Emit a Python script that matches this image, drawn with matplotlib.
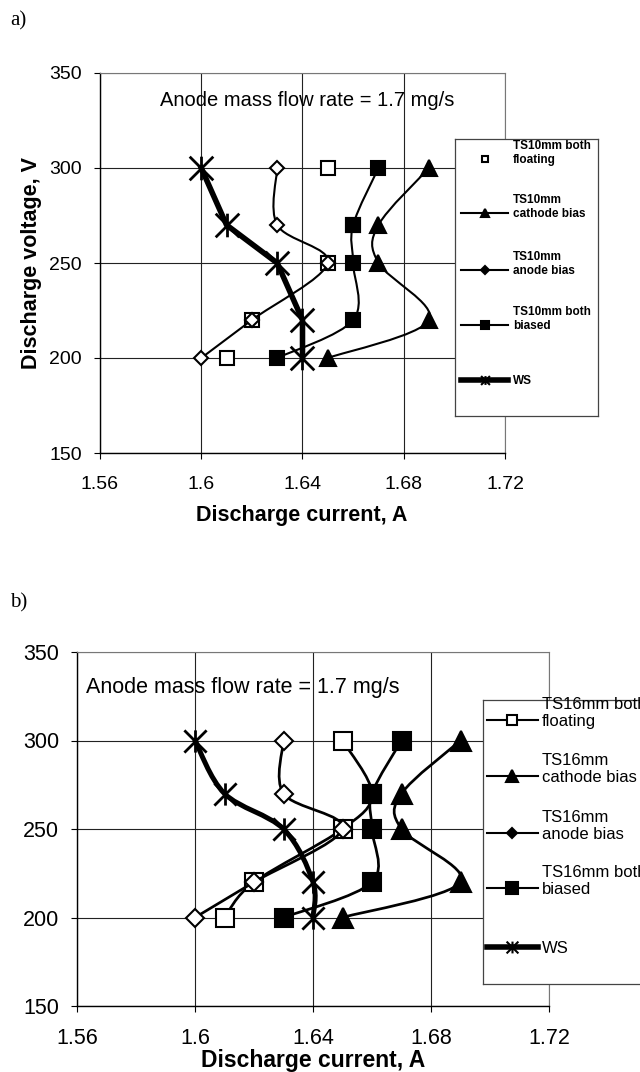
import numpy as np
import matplotlib
matplotlib.use("Agg")
import matplotlib.pyplot as plt
from matplotlib.path import Path
from matplotlib.patches import PathPatch
from matplotlib.lines import Line2D
from matplotlib.ticker import FormatStrFormatter

plt.rcParams['font.family'] = ['Liberation Sans', 'DejaVu Sans']

# discharge voltage, V (same points for every series)
voltage = [200, 220, 250, 270, 300]

# discharge current, A
both_floating = [1.61, 1.62, 1.65, 1.66, 1.65]
cathode_bias = [1.65, 1.69, 1.67, 1.67, 1.69]
anode_bias = [1.60, 1.62, 1.65, 1.63, 1.63]
both_biased = [1.63, 1.66, 1.66, 1.66, 1.67]
ws = [1.64, 1.64, 1.63, 1.61, 1.60]

labels_a = ["TS10mm both\nfloating", "TS10mm\ncathode bias", "TS10mm\nanode bias",
            "TS10mm both\nbiased", "WS"]
labels_b = ["TS16mm both\nfloating", "TS16mm\ncathode bias", "TS16mm\nanode bias",
            "TS16mm both\nbiased", "WS"]

x_ticks = [1.56, 1.60, 1.64, 1.68, 1.72]
y_ticks = [150, 200, 250, 300, 350]

W, H = 640, 1072
fig = plt.figure(figsize=(W / 100, H / 100), dpi=100)


def px_rect(x, top, w, h):
    return [x / W, 1 - (top + h) / H, w / W, h / H]


def star_marker():
    v = [(-1, -1), (1, 1), (-1, 1), (1, -1), (0, -1), (0, 1)]
    c = [Path.MOVETO, Path.LINETO] * 3
    return Path(v, c)


STAR = star_marker()


def smooth_path(ax, x, y):
    # excel style smoothed line (catmull-rom bezier in screen space)
    pts = ax.transData.transform(np.column_stack([x, y]))
    n = len(pts)
    verts = [pts[0]]
    codes = [Path.MOVETO]
    for i in range(n - 1):
        p0 = pts[i - 1] if i > 0 else pts[i]
        p1, p2 = pts[i], pts[i + 1]
        p3 = pts[i + 2] if i + 2 < n else pts[i + 1]
        verts += [p1 + (p2 - p0) / 6, p2 - (p3 - p1) / 6, p2]
        codes += [Path.CURVE4] * 3
    return Path(ax.transData.inverted().transform(np.array(verts)), codes)


def make_panel(rect, big, float_line, ws_smooth):
    ax = fig.add_axes(rect)
    ax.set_xlim(1.56, 1.72)
    ax.set_ylim(150, 350)
    ax.set_xticks(x_ticks)
    ax.set_yticks(y_ticks)
    ax.xaxis.set_major_formatter(FormatStrFormatter('%g'))
    ax.grid(True, color='#222222', lw=0.8)
    ax.set_axisbelow(True)
    for s in ['top', 'right']:
        ax.spines[s].set_color('#777777')
        ax.spines[s].set_linewidth(0.8)
    for s in ['left', 'bottom']:
        ax.spines[s].set_linewidth(1.0)
    fs = 15.5 if big else 14
    ax.tick_params(axis='both', direction='out', length=4.5, width=0.8, labelsize=fs)
    ax.tick_params(axis='x', pad=11 if big else 12)
    ax.tick_params(axis='y', pad=8.5)

    k = 1.3 if big else 1.0
    series = [
        (both_floating, 's', 10.5 * k, 'white', 1.5 * k, float_line, True),
        (cathode_bias, '^', 11.5 * k, 'black', 1.5 * k, True, True),
        (anode_bias, 'D', 7.0 * k, 'white', 1.5 * k, True, True),
        (both_biased, 's', 10.5 * k, 'black', 1.5 * k, True, True),
        (ws, STAR, 17 if not big else 16, 'none', 4.0 if not big else 3.6, True, ws_smooth),
    ]
    for z, (cur, mk, ms, mfc, lw, line, smooth) in enumerate(series):
        if line and smooth:
            ax.add_patch(PathPatch(smooth_path(ax, cur, voltage), fill=False,
                                   lw=lw, edgecolor='black', capstyle='round',
                                   joinstyle='round', zorder=3 + 2 * z))
        elif line:
            ax.plot(cur, voltage, color='black', lw=lw, solid_joinstyle='round',
                    zorder=3 + 2 * z)
        mew = 2.0 if mk is STAR else 1.5
        ax.plot(cur, voltage, linestyle='none', marker=mk, ms=ms, mfc=mfc,
                mec='black', mew=mew, zorder=4 + 2 * z)
    return ax


def make_legend(rect, w, h, labels, big, float_line):
    lg = fig.add_axes(rect, zorder=30)
    lg.set_xlim(0, w)
    lg.set_ylim(h, 0)
    lg.set_xticks([])
    lg.set_yticks([])
    for s in lg.spines.values():
        s.set_color('#444444')
        s.set_linewidth(0.9)
    if big:
        rows, hx0, hx1, mx, tx = [20, 76, 133, 188, 247], 4, 55, 29, 59
        fs, weight, lsp, k = 12, 'normal', 1.15, 1.0
    else:
        rows, hx0, hx1, mx, tx = [20, 74, 131, 186, 241], 6, 53, 30, 58
        fs, weight, lsp, k = 8.5, 'bold', 1.3, 0.75
    handles = [
        ('s', 6.5 * k, 'white', 1.5, float_line),
        ('^', 8.5 * k, 'black', 1.5, True),
        ('D', 5.5 * k, 'black', 1.5, True),
        ('s', 8.5 * k, 'black', 1.5, True),
        (STAR, 8.5 * k, 'none', 4.0, True),
    ]
    fs_px = fs * 100 / 72
    for y, lab, (mk, ms, mfc, lw, line) in zip(rows, labels, handles):
        if line:
            lg.add_line(Line2D([hx0, hx1], [y, y], color='black', lw=lw))
        lg.add_line(Line2D([mx], [y], marker=mk, ms=ms, mfc=mfc, mec='black',
                           mew=1.5, linestyle='none'))
        lg.text(tx, y + 0.36 * fs_px, lab, fontsize=fs, fontweight=weight,
                va='baseline', ha='left', linespacing=lsp)
    return lg


# panel a
ax_a = make_panel(px_rect(100, 73, 405, 380), False, False, False)
make_legend(px_rect(455, 139, 143, 277), 143, 277, labels_a, False, False)
fig.text(307 / W, 1 - 100 / H, "Anode mass flow rate = 1.7 mg/s", fontsize=14.5,
         ha='center', va='center')
fig.text(302 / W, 1 - 516 / H, "Discharge current, A", fontsize=15.5,
         fontweight='bold', ha='center', va='center')
fig.text(32 / W, 1 - 263 / H, "Discharge voltage, V", fontsize=15.5,
         fontweight='bold', ha='center', va='center', rotation=90)
fig.text(10 / W, 1 - 21 / H, "a)", fontsize=15, family=['Liberation Serif'],
         ha='left', va='center')

# panel b
ax_b = make_panel(px_rect(77, 652, 472, 354), True, True, True)
make_legend(px_rect(483, 700, 185, 284), 185, 284, labels_b, True, True)
fig.text(243 / W, 1 - 688 / H, "Anode mass flow rate = 1.7 mg/s", fontsize=15.5,
         ha='center', va='center')
fig.text(313 / W, 1 - 1061 / H, "Discharge current, A", fontsize=16.5,
         fontweight='bold', ha='center', va='center')
fig.text(10 / W, 1 - 603 / H, "b)", fontsize=15, family=['Liberation Serif'],
         ha='left', va='center')

fig.savefig("out.png", dpi=100)
